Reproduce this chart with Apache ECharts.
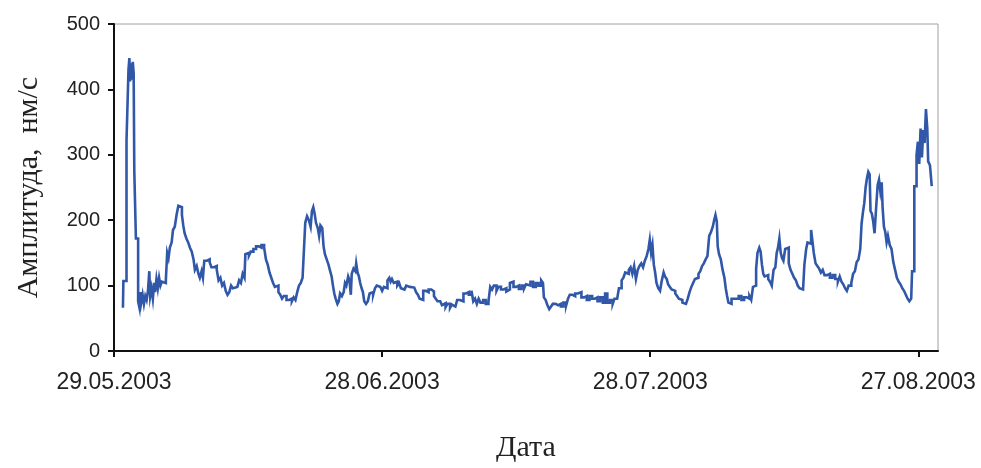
<!DOCTYPE html>
<html>
<head>
<meta charset="utf-8">
<script src="https://cdn.jsdelivr.net/npm/echarts@6/dist/echarts.min.js"></script>
<style>
html,body{margin:0;padding:0;background:#fff;}
#chart{width:981px;height:468px;}
</style>
</head>
<body>
<div id="chart"></div>
<script>
// Days elapsed since 29.05.2003 (00:00)
const days = [
1.0,1.05,1.4,1.62,1.72,1.8,1.9,2.0,2.1,2.2,2.27,2.45,2.7,2.85,2.95,3.05,3.2,3.35,3.5,3.65,3.8,3.95,4.05,4.2,4.35,4.5,4.6,4.75,4.9,5.05,5.2,5.35,5.55,5.8,5.95,6.1,6.25,6.45,6.6,6.8,7.0,7.2,7.4,7.6,7.75,7.9,8.1,8.3,8.5,8.7,8.9,9.05,9.25,9.45,9.6,9.8,9.95,10.1,10.4,10.7,10.9,
11.2,11.5,11.7,11.9,12.1,12.3,12.5,12.7,12.9,13.1,13.3,13.5,13.8,14.0,14.2,14.4,14.6,14.7,14.9,15.1,15.3,15.6,15.9,16.2,16.5,16.8,17.0,17.2,17.4,17.6,17.8,18.0,18.2,18.4,18.6,18.8,19.0,19.3,19.6,19.9,20.1,20.3,20.5,20.7,20.9,21.1,21.2,21.4,21.6,21.8,22.0,22.15,22.3,22.45,22.6,22.8,22.95,
23.1,23.3,23.45,23.6,23.8,24.0,24.15,24.35,24.5,24.65,24.8,25.0,25.15,25.3,25.5,25.7,25.85,26.0,26.2,26.35,26.5,26.6,26.8,27.0,27.1,27.25,27.4,27.55,27.7,27.85,28.0,28.2,28.4,28.6,28.8,29.0,29.2,29.4,29.6,29.8,30.0,30.2,30.4,30.6,30.8,30.95,31.1,31.3,31.5,31.7,31.9,32.1,32.3,32.5,32.7,32.9,33.1,33.3,33.6,33.8,34.0,34.2,34.4,
34.6,34.9,35.2,35.5,35.8,36.0,36.2,36.5,36.7,36.9,37.1,37.3,37.6,37.8,38.0,38.2,38.4,38.7,38.9,39.1,39.4,39.7,40.0,40.2,40.4,40.6,40.8,41.0,41.3,41.6,41.9,42.1,42.3,42.5,42.8,43.0,43.3,43.6,43.9,44.1,44.3,44.5,44.7,45.0,45.3,45.6,45.9,46.1,
46.3,46.6,46.9,47.2,47.5,47.8,48.0,48.1,48.3,48.5,48.7,48.9,49.1,49.4,49.7,50.0,50.3,50.6,50.8,51.0,51.3,51.6,51.9,52.1,52.3,52.6,52.9,53.2,53.5,53.8,54.1,54.4,54.7,54.95,55.2,55.5,55.8,56.0,56.3,56.5,56.8,57.0,57.2,57.4,57.6,57.8,
58.0,58.2,58.4,58.6,58.8,59.0,59.2,59.4,59.6,59.8,59.95,60.1,60.25,60.4,60.55,60.7,60.9,61.1,61.3,61.5,61.65,61.85,62.0,62.2,62.4,62.6,62.8,63.0,63.2,63.4,63.6,63.8,64.0,64.2,64.4,64.6,64.8,65.0,65.2,65.4,65.6,65.8,66.0,66.2,66.4,66.6,66.8,67.0,67.15,67.3,67.45,67.55,67.7,67.9,68.1,68.3,68.45,68.6,68.75,68.9,69.1,69.4,
69.6,69.9,70.2,70.5,70.8,71.1,71.3,71.5,71.7,71.85,72.0,72.2,72.35,72.5,72.65,72.8,73.0,73.2,73.4,73.6,73.8,74.0,74.15,74.3,74.45,74.6,74.75,74.9,75.1,75.3,75.5,75.7,75.9,76.1,76.3,76.5,76.7,76.9,77.1,77.25,77.45,77.6,77.8,78.0,78.15,78.3,78.5,78.7,78.9,79.1,79.3,79.5,79.8,80.1,80.4,80.7,81.0,
81.2,81.4,81.6,81.8,82.0,82.2,82.5,82.7,82.9,83.1,83.3,83.5,83.65,83.8,83.95,84.1,84.25,84.4,84.55,84.65,84.8,84.95,85.1,85.3,85.45,85.6,85.75,85.9,86.0,86.15,86.3,86.45,86.6,86.8,87.0,87.2,87.4,87.6,87.8,88.0,88.2,88.4,88.6,88.8,89.0,89.2,89.3,89.55,89.8,89.95,90.1,90.25,90.4,90.55,90.7,90.85,91.0,91.1,91.3,91.5
];
// Amplitude, nm/s
const amplitude = [
66,107,322,430,448,412,440,415,442,425,276,172,76,66,90,74,86,72,84,78,92,122,84,96,80,104,90,110,96,112,100,106,104,108,150,142,158,166,185,190,208,222,220,208,192,180,172,166,158,152,140,124,130,118,112,122,112,138,140,136,128,
130,124,108,112,100,104,92,86,90,100,96,98,100,108,104,118,112,148,150,146,152,156,160,158,162,158,140,132,120,112,104,98,100,90,86,80,84,78,80,76,82,78,90,100,104,112,140,196,206,200,190,214,220,210,196,188,176,
192,188,160,148,140,132,124,114,100,88,80,72,76,88,84,90,104,100,114,108,86,118,126,122,134,120,114,104,96,90,76,72,76,88,90,86,96,100,98,100,92,98,96,108,112,106,110,104,106,100,104,96,94,92,100,98,101,97,100,90,86,80,78,
92,90,94,91,84,80,76,78,70,73,67,72,66,71,68,65,78,80,76,88,90,86,92,76,80,72,80,74,78,72,76,98,94,100,92,98,94,96,91,94,104,106,98,100,95,100,96,102,
100,106,98,104,100,108,104,82,78,70,64,68,72,70,72,68,74,70,80,86,84,88,85,90,82,84,78,84,80,82,76,82,74,88,74,78,72,80,78,96,108,112,120,118,124,128,
118,130,110,124,130,134,128,138,145,156,170,150,162,132,120,104,96,92,108,120,114,110,102,98,94,92,88,84,80,78,74,72,74,80,90,98,104,110,112,118,122,130,134,140,145,176,182,190,200,208,198,160,148,140,124,112,96,84,74,72,80,82,
80,84,78,82,80,84,78,98,100,126,150,158,152,132,118,114,116,110,106,100,124,128,150,158,172,150,142,138,156,158,134,124,118,112,108,100,96,94,96,132,156,166,164,185,168,150,134,130,126,120,124,116,118,112,116,110,106,
114,106,102,96,92,100,104,118,122,136,140,156,195,212,226,250,264,274,270,214,210,198,180,224,254,262,244,258,220,190,182,166,176,162,156,136,124,112,106,102,96,92,86,80,76,80,122,252,300,320,286,340,296,338,318,370,340,290,284,252
];
const yTicks = [0,100,200,300,400,500];
const xTickLabels = ['29.05.2003','28.06.2003','28.07.2003','27.08.2003'];

const chart = echarts.init(document.getElementById('chart'), null, {renderer:'canvas'});
const seriesData = days.map((d,i)=>[d, amplitude[i]]);
chart.setOption({
  animation:false,
  backgroundColor:'#ffffff',
  grid:{left:114, right:43, top:24, bottom:114, show:true, borderColor:'#a0a0a0', borderWidth:1, backgroundColor:'transparent'},
  xAxis:{
    type:'value', min:0, max:92.2, interval:30,
    name:'Дата', nameLocation:'middle', nameGap:82,
    nameTextStyle:{fontFamily:'Liberation Serif', fontSize:30, color:'#222'},
    axisLine:{show:true, onZero:false, lineStyle:{color:'#111', width:2}},
    axisTick:{show:true, length:6, lineStyle:{color:'#111', width:2}},
    splitLine:{show:false},
    axisLabel:{
      showMaxLabel:false, margin:20,
      fontFamily:'Liberation Sans', fontSize:23, color:'#222',
      formatter:function(v){ const k=Math.round(v/30); return (Math.abs(v-k*30)<1e-6 && xTickLabels[k]) ? xTickLabels[k] : ''; }
    }
  },
  yAxis:{
    type:'value', min:yTicks[0], max:yTicks[yTicks.length-1], interval:100,
    name:'Амплитуда,  нм/с', nameLocation:'middle', nameGap:70, nameRotate:90,
    nameTextStyle:{fontFamily:'Liberation Serif', fontSize:30, color:'#222'},
    axisLine:{show:true, lineStyle:{color:'#111', width:2}},
    axisTick:{show:true, length:6, lineStyle:{color:'#111', width:2}},
    splitLine:{show:false},
    axisLabel:{margin:14, fontFamily:'Liberation Sans', fontSize:20, color:'#222'}
  },
  series:[{
    type:'line', data:seriesData, step:'end', showSymbol:false, symbol:'none',
    lineStyle:{color:'#3157a8', width:2.6, join:'miter'}, itemStyle:{color:'#3157a8'}
  }]
});
</script>
</body>
</html>
